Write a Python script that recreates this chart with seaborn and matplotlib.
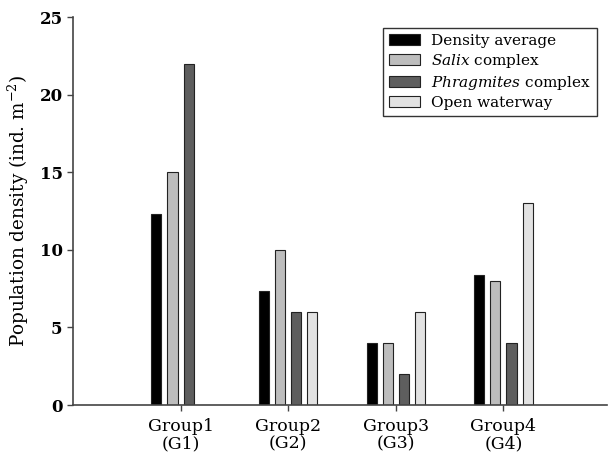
import matplotlib
matplotlib.use("Agg")
import matplotlib.pyplot as plt
import seaborn as sns
import pandas as pd

groups = ["Group1\n(G1)", "Group2\n(G2)", "Group3\n(G3)", "Group4\n(G4)"]
series = ["Density average", "$\\mathit{Salix}$ complex",
          "$\\mathit{Phragmites}$ complex", "Open waterway"]
density_average = [12.3, 7.35, 4.0, 8.35]
salix_complex = [15.0, 10.0, 4.0, 8.0]
phragmites_complex = [22.0, 6.0, 2.0, 4.0]
open_waterway = [0.0, 6.0, 6.0, 13.0]
colors = ["#000000", "#bdbdbd", "#5e5e5e", "#e2e2e2"]

values = [density_average, salix_complex, phragmites_complex, open_waterway]
rows = []
for s, vals in zip(series, values):
    for g, v in zip(groups, vals):
        rows.append({"group": g, "series": s, "value": v})
df = pd.DataFrame(rows)

sns.set_style("white")
plt.rcParams["font.family"] = ["DejaVu Serif"]
plt.rcParams["mathtext.fontset"] = "dejavuserif"
plt.rcParams["text.color"] = "black"
plt.rcParams["axes.labelcolor"] = "black"
plt.rcParams["xtick.color"] = "black"
plt.rcParams["ytick.color"] = "black"

fig = plt.figure(figsize=(6.08, 4.58), dpi=100)
ax = fig.add_axes([0.12, 0.1157, 0.878, 0.847])

sns.barplot(data=df, x="group", y="value", hue="series", order=groups,
            hue_order=series, palette=colors, width=0.6, gap=0.375,
            edgecolor="#222222", linewidth=0.8, ax=ax)

ax.set_xlim(-1.0, 3.96)
ax.set_ylim(0, 25)
ax.set_yticks([0, 5, 10, 15, 20, 25])
ax.set_xlabel("")
ax.set_ylabel("Population density (ind. m$^{-2}$)", fontsize=13.2, labelpad=6)
ax.tick_params(axis="y", labelsize=12, length=4, width=1, direction="out",
               left=True, color="#444444", labelcolor="black")
ax.tick_params(axis="x", labelsize=12.5, length=4, width=1, direction="out",
               bottom=True, color="#444444", labelcolor="black", pad=5)
for lab in ax.get_yticklabels():
    lab.set_fontweight("bold")
for lab in ax.get_xticklabels():
    lab.set_linespacing(1.1)
for sp in ["top", "right"]:
    ax.spines[sp].set_visible(False)
for sp in ["left", "bottom"]:
    ax.spines[sp].set_color("#444444")
    ax.spines[sp].set_linewidth(1.2)

leg = ax.legend(loc="upper right", bbox_to_anchor=(0.981, 0.972), borderaxespad=0,
                fontsize=11, frameon=True, fancybox=False, edgecolor="black",
                handlelength=2.0, handleheight=0.7, labelspacing=0.25,
                borderpad=0.4, handletextpad=0.7)
leg.get_frame().set_linewidth(1.0)
for t in leg.get_texts():
    t.set_color("black")

fig.savefig("out.png", dpi=100)
